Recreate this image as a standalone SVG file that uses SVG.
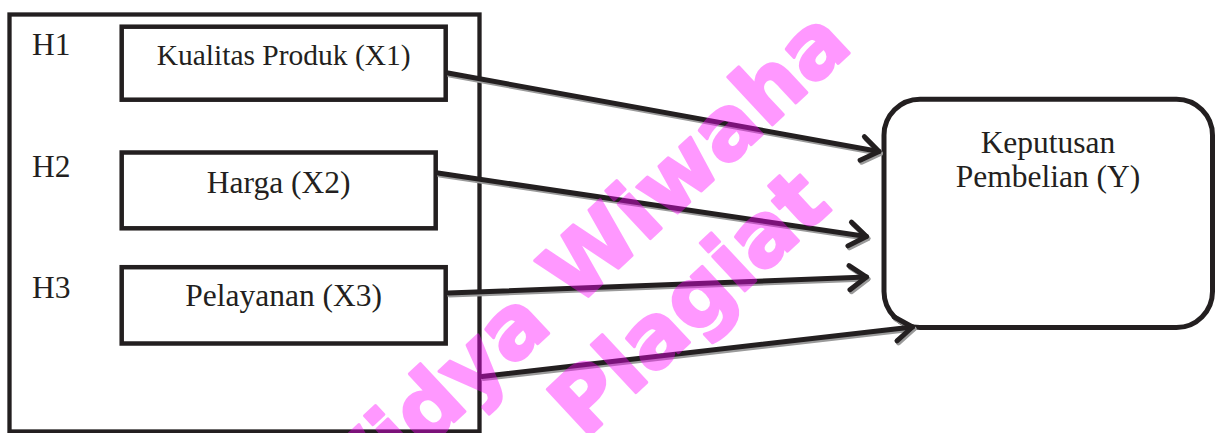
<svg xmlns="http://www.w3.org/2000/svg" width="1219" height="433" viewBox="0 0 1219 433">
  <style>
    .box { fill: #ffffff; stroke: #231f20; stroke-width: 4.5; }
    .lbl { font-family: "Liberation Serif", "Times New Roman", serif; font-size: 31.5px; fill: #231f20; }
    .mid { text-anchor: middle; }
    .con { stroke: #231f20; stroke-width: 5; fill: none; stroke-linecap: round; }
    .sh { stroke: #9a9a9a; stroke-width: 5; fill: none; stroke-linecap: round; }
    .wm { font-family: "DejaVu Sans", "Liberation Sans", sans-serif; font-weight: bold; font-size: 86px; fill: #ff00ff; stroke: #ff00ff; stroke-width: 3; stroke-linejoin: round; }
  </style>
  <defs>
    <marker id="arr" markerUnits="userSpaceOnUse" markerWidth="40" markerHeight="40" viewBox="-25 -20 30 40" refX="0" refY="0" orient="auto">
      <path d="M-17,-12 L0,0 L-17,12" fill="none" stroke="#231f20" stroke-width="5" stroke-linecap="round" stroke-linejoin="round"/>
    </marker>
    <marker id="arrsh" markerUnits="userSpaceOnUse" markerWidth="40" markerHeight="40" viewBox="-25 -20 30 40" refX="0" refY="0" orient="auto">
      <path d="M-17,-12 L0,0 L-17,12" fill="none" stroke="#9a9a9a" stroke-width="5" stroke-linecap="round" stroke-linejoin="round"/>
    </marker>
  </defs>
  <rect width="1219" height="433" fill="#ffffff"/>

  <g id="outer-frame">
    <rect x="9.5" y="14.5" width="470" height="417" fill="none" stroke="#231f20" stroke-width="4.3"/>
    <text class="lbl" x="32" y="55">H1</text>
    <text class="lbl" x="32" y="177">H2</text>
    <text class="lbl" x="32" y="298">H3</text>
  </g>

  <g id="node-x1">
    <rect class="box" x="121.7" y="26.7" width="324" height="73"/>
    <text class="lbl mid" x="283.7" y="65" style="font-size:29.5px">Kualitas Produk (X1)</text>
  </g>
  <g id="node-x2">
    <rect class="box" x="121.7" y="152.5" width="314" height="75.8"/>
    <text class="lbl mid" x="278.7" y="193">Harga (X2)</text>
  </g>
  <g id="node-x3">
    <rect class="box" x="121.7" y="267.2" width="324" height="76.3"/>
    <text class="lbl mid" x="283.7" y="306">Pelayanan (X3)</text>
  </g>

  <g id="node-y">
    <rect x="884" y="99.2" width="328.5" height="228.3" rx="36" ry="36" fill="#ffffff" stroke="#231f20" stroke-width="5"/>
    <text class="lbl mid" x="1048" y="152.7">Keputusan</text>
    <text class="lbl mid" x="1048" y="187.3">Pembelian (Y)</text>
  </g>

  <g id="connectors">
    <g transform="translate(1.5,2)">
      <line class="sh" x1="448" y1="73" x2="879" y2="151.5" marker-end="url(#arrsh)"/>
      <line class="sh" x1="438" y1="173" x2="866.5" y2="236.5" marker-end="url(#arrsh)"/>
      <line class="sh" x1="448" y1="293" x2="866.5" y2="277" marker-end="url(#arrsh)"/>
      <line class="sh" x1="482" y1="376.5" x2="912.5" y2="327" marker-end="url(#arrsh)"/>
    </g>
    <line class="con" x1="448" y1="73" x2="879" y2="151.5" marker-end="url(#arr)"/>
    <line class="con" x1="438" y1="173" x2="866.5" y2="236.5" marker-end="url(#arr)"/>
    <line class="con" x1="448" y1="293" x2="866.5" y2="277" marker-end="url(#arr)"/>
    <line class="con" x1="482" y1="376.5" x2="912.5" y2="327" marker-end="url(#arr)"/>
  </g>

  <g id="watermark" opacity="0.4">
    <text class="wm" transform="translate(334.3,533.3) rotate(-43)">Widya Wiwaha</text>
    <text class="wm" transform="translate(584.3,440.4) rotate(-43)">Plagiat</text>
  </g>
</svg>
